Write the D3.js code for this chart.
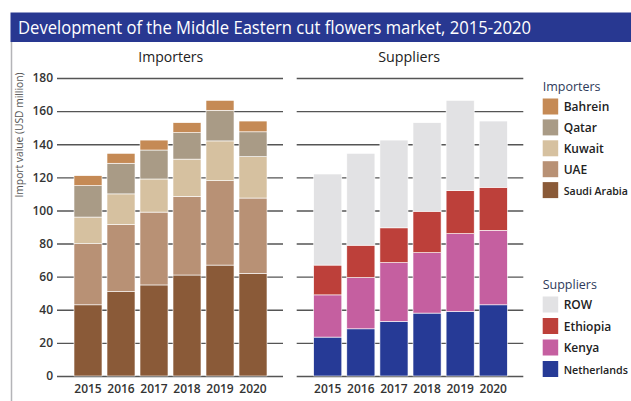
<!DOCTYPE html>
<html>
<head>
<meta charset="utf-8">
<script src="https://cdn.jsdelivr.net/npm/d3@7"></script>
<style>
  body { margin: 0; background: #fff; }
  svg text { font-family: "Open Sans", "Noto Sans", sans-serif; }
</style>
</head>
<body>
<svg id="chart" width="631" height="401"></svg>
<script>
// data (USD million)
var years = ["2015", "2016", "2017", "2018", "2019", "2020"];

var importerKeys = ["Saudi Arabia", "UAE", "Kuwait", "Qatar", "Bahrein"];
var saudiArabia = [43, 51, 55, 61, 67, 62];
var uae = [37, 40.5, 44, 47.5, 51, 45.5];
var kuwait = [16, 18.5, 20, 22.5, 24, 25];
var qatar = [19, 18.5, 17.5, 16, 18.5, 15];
var bahrein = [6, 6, 6, 6, 6, 6.5];

var supplierKeys = ["Netherlands", "Kenya", "Ethiopia", "ROW"];
var netherlands = [23.5, 28.5, 33, 38, 39, 43];
var kenya = [25.5, 31, 35.5, 36.5, 47, 45];
var ethiopia = [18, 19.5, 21, 25, 26, 26];
var row = [55, 55.5, 53, 53.5, 54.5, 40];

var yTicks = [0, 20, 40, 60, 80, 100, 120, 140, 160, 180];

var importerColors = {
	"Saudi Arabia": "#8a5a38",
	"UAE": "#b89175",
	"Kuwait": "#d6c1a0",
	"Qatar": "#a99b86",
	"Bahrein": "#c58a55"
};
var supplierColors = {
	"Netherlands": "#263a96",
	"Kenya": "#c55fa0",
	"Ethiopia": "#bd403a",
	"ROW": "#e2e2e4"
};

// build row tables for d3.stack
var importerRows = years.map(function(yr, i) {
	return { year: yr, "Saudi Arabia": saudiArabia[i], "UAE": uae[i], "Kuwait": kuwait[i], "Qatar": qatar[i], "Bahrein": bahrein[i] };
});
var supplierRows = years.map(function(yr, i) {
	return { year: yr, "Netherlands": netherlands[i], "Kenya": kenya[i], "Ethiopia": ethiopia[i], "ROW": row[i] };
});

var svg = d3.select("#chart");

// panel frame
svg.append("line")
	.attr("x1", 11.5).attr("x2", 11.5)
	.attr("y1", 42).attr("y2", 401)
	.attr("stroke", "#b4b4b8").attr("stroke-width", 1.5);

// title bar
svg.append("rect")
	.attr("x", 10.5).attr("y", 12.5)
	.attr("width", 621).attr("height", 29.5)
	.attr("fill", "#283891");
svg.append("text")
	.attr("x", 18).attr("y", 33.5)
	.attr("fill", "#fff")
	.attr("font-size", 18)
	.attr("textLength", 513)
	.attr("lengthAdjust", "spacingAndGlyphs")
	.text("Development of the Middle Eastern cut flowers market, 2015-2020");

var y = d3.scaleLinear().domain([0, 180]).range([376, 78]);

var xLeft = d3.scaleBand().domain(years).range([74, 267]).paddingInner(0.1515).paddingOuter(0);
var xRight = d3.scaleBand().domain(years).range([313.7, 507.3]).paddingInner(0.1515).paddingOuter(0);

// gridlines (left axis with labels, right one without)
var axisL = svg.append("g")
	.attr("transform", "translate(57,0)")
	.call(d3.axisLeft(y).tickValues(yTicks).tickSize(-226).tickPadding(4));
var axisR = svg.append("g")
	.attr("transform", "translate(296.7,0)")
	.call(d3.axisLeft(y).tickValues(yTicks).tickSize(-226.6).tickFormat(""));
[axisL, axisR].forEach(function(ax) {
	ax.select(".domain").remove();
	ax.selectAll(".tick line").attr("stroke", "#555").attr("stroke-width", 1.4);
});
axisL.selectAll(".tick text")
	.attr("font-size", 12)
	.attr("font-weight", 600)
	.attr("fill", "#333");

// y axis title
svg.append("text")
	.attr("transform", "translate(23,135) rotate(-90)")
	.attr("text-anchor", "middle")
	.attr("font-size", 10)
	.attr("fill", "#555")
	.attr("textLength", 125)
	.attr("lengthAdjust", "spacingAndGlyphs")
	.text("Import value (USD million)");

function drawStack(rows, keys, colors, x) {
	var series = d3.stack().keys(keys)(rows);
	var g = svg.append("g");
	g.selectAll("g")
		.data(series)
		.join("g")
		.attr("fill", function(d) { return colors[d.key]; })
		.selectAll("rect")
		.data(function(d) { return d; })
		.join("rect")
		.attr("x", function(d) { return x(d.data.year); })
		.attr("y", function(d) { return y(d[1]); })
		.attr("width", x.bandwidth())
		.attr("height", function(d) { return y(d[0]) - y(d[1]); })
		.attr("stroke", "#fff")
		.attr("stroke-width", 0.6);

	// year labels
	svg.append("g").selectAll("text")
		.data(years)
		.join("text")
		.attr("x", function(d) { return x(d) + x.bandwidth() / 2; })
		.attr("y", 392.5)
		.attr("text-anchor", "middle")
		.attr("font-size", 12)
		.attr("font-weight", 600)
		.attr("fill", "#333")
		.text(function(d) { return d; });
}

drawStack(importerRows, importerKeys, importerColors, xLeft);
drawStack(supplierRows, supplierKeys, supplierColors, xRight);

// panel headers
svg.append("text")
	.attr("x", 170.8).attr("y", 62)
	.attr("text-anchor", "middle")
	.attr("font-size", 15)
	.attr("fill", "#222")
	.attr("textLength", 65)
	.attr("lengthAdjust", "spacingAndGlyphs")
	.text("Importers");
svg.append("text")
	.attr("x", 409.2).attr("y", 62)
	.attr("text-anchor", "middle")
	.attr("font-size", 15)
	.attr("fill", "#222")
	.attr("textLength", 62)
	.attr("lengthAdjust", "spacingAndGlyphs")
	.text("Suppliers");

// legends
var legendX = 542.7, labelRoom = 631 - 3 - (542.7 + 21);

function drawLegend(title, keys, colors, top, step) {
	var g = svg.append("g").attr("transform", "translate(" + legendX + "," + top + ")");
	g.append("text")
		.attr("x", 0).attr("y", -8)
		.attr("font-size", 12.5)
		.attr("fill", "#2e3a5a")
		.text(title);
	var items = g.selectAll("g.item")
		.data(keys)
		.join("g")
		.attr("class", "item")
		.attr("transform", function(d, i) { return "translate(0," + (i * step) + ")"; });
	items.append("rect")
		.attr("width", 15.5).attr("height", 16)
		.attr("fill", function(d) { return colors[d]; });
	items.append("text")
		.attr("x", 21).attr("y", 12.5)
		.attr("font-size", 12)
		.attr("font-weight", 600)
		.attr("fill", "#222")
		.text(function(d) { return d; })
		.each(function() {
			// shrink labels that would run past the right edge
			var w = this.getComputedTextLength();
			if (w > labelRoom) d3.select(this).attr("font-size", 12 * labelRoom / w);
		});
}

drawLegend("Importers", importerKeys.slice().reverse(), importerColors, 98.5, 20.9);
drawLegend("Suppliers", supplierKeys.slice().reverse(), supplierColors, 296.5, 21.5);
</script>
</body>
</html>
